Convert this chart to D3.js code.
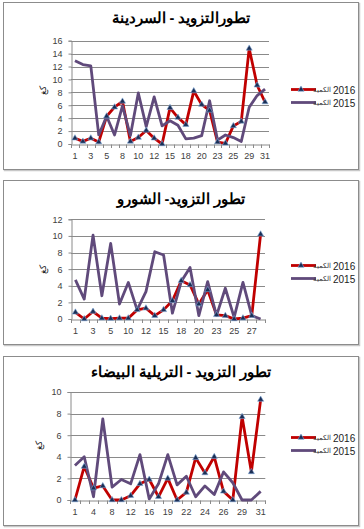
<!DOCTYPE html>
<html><head><meta charset="utf-8">
<script src="https://cdn.jsdelivr.net/npm/d3@7"></script>
<style>
html,body{margin:0;padding:0;background:#fff;}
svg{display:block;}
text{font-family:"Liberation Sans",Arial,sans-serif;}
</style></head>
<body>
<svg id="c" width="364" height="529"></svg>
<script>
// ---------- data ----------
const titles = ["تطورالتزويد - السردينة", "تطور التزويد- الشورو", "تطور التزويد - التريلية البيضاء"];
const seriesNames = ["الكمية 2016", "الكمية 2015"];
const yTitle = "كغ";

const days1 = [1,2,3,4,5,6,8,9,10,11,12,13,15,16,18,19,20,22,23,24,25,26,29,30,31];
const s1_2016 = [0.9,0.4,0.9,0.3,4.3,5.7,6.6,0.4,1.0,2.1,0.9,0.0,5.6,4.1,3.0,8.2,6.1,5.2,0.3,0.1,2.8,3.5,14.8,9.1,6.5];
const s1_2015 = [12.9,12.3,12.1,1.4,4.3,1.4,5.9,1.3,7.9,2.7,7.3,2.8,3.6,2.9,0.8,0.9,1.3,6.7,0.6,1.4,1.0,0.4,5.7,7.5,8.5];
const yTicks1 = [0,2,4,6,8,10,12,14,16];

const days2 = [1,2,3,4,5,8,10,11,12,13,15,16,18,19,20,22,23,24,25,26,27,29];
const s2_2016 = [0.8,0.0,0.9,0.1,0.05,0.1,0.1,1.1,1.3,0.4,1.1,2.2,4.6,4.1,1.8,3.5,0.5,0.4,0.0,0.1,0.4,10.2];
const s2_2015 = [4.7,2.4,10.1,2.8,9.1,1.8,4.4,1.1,3.3,8.1,7.7,0.7,4.5,6.2,0.4,4.5,0.4,3.7,0.2,4.4,0.4,0.0];
const yTicks2 = [0,2,4,6,8,10,12];

const days3 = [1,2,4,6,8,10,12,14,16,18,19,20,22,23,24,25,26,28,29,30,31];
const s3_2016 = [0.0,3.1,1.1,1.3,0.0,0.0,0.4,1.5,1.9,0.3,2.0,0.0,0.7,3.9,2.5,4.0,0.8,0.0,7.7,2.6,9.3];
const s3_2015 = [3.2,4.0,0.3,7.5,1.2,1.9,1.5,4.2,0.1,1.5,4.2,1.4,2.2,0.3,1.3,0.5,2.6,1.6,0.0,0.0,0.8];
const yTicks3 = [0,2,4,6,8,10];

// ---------- layout ----------
const panels = [
  {title:titles[0], days:days1, a:s1_2016, b:s1_2015, ticks:yTicks1,
   box:[3,2,355,167], titleY:18, x0:71, x1:269, yb:144, yt:40.7, yLabX:43, yLabY:90, legY:89.5},
  {title:titles[1], days:days2, a:s2_2016, b:s2_2015, ticks:yTicks2,
   box:[3,180,355,164], titleY:199, x0:71, x1:265, yb:319, yt:219.3, yLabX:42.5, yLabY:269, legY:265.5},
  {title:titles[2], days:days3, a:s3_2016, b:s3_2015, ticks:yTicks3,
   box:[3,356,355,169], titleY:372, x0:70.3, x1:265.3, yb:500, yt:392, yLabX:39, yLabY:445, legY:437.5}
];
const RED = "#c00000", PURPLE = "#604a7b";

const svg = d3.select("#c");
const tri = d3.symbol().type(d3.symbolTriangle).size(16);

panels.forEach(p => {
  const g = svg.append("g");
  // frame
  g.append("rect").attr("x", p.box[0]+1.5).attr("y", p.box[1]+1.5).attr("width", p.box[2]).attr("height", p.box[3])
    .attr("fill", "none").attr("stroke", "#c8c8c8").attr("stroke-width", 1.5);
  g.append("rect").attr("x", p.box[0]+0.5).attr("y", p.box[1]+0.5).attr("width", p.box[2]).attr("height", p.box[3])
    .attr("fill", "#fff").attr("stroke", "#8c8c8c").attr("stroke-width", 1);

  const x = d3.scaleBand().domain(p.days.map(String)).range([p.x0, p.x1]).padding(0);
  const ymax = p.ticks[p.ticks.length-1];
  const y = d3.scaleLinear().domain([0, ymax]).range([p.yb, p.yt]);
  const cx = d => x(String(d)) + x.bandwidth()/2;

  // gridlines
  g.append("g").selectAll("line").data(p.ticks.filter(t => t > 0)).join("line")
    .attr("x1", p.x0).attr("x2", p.x1).attr("y1", d => Math.round(y(d))+0.5).attr("y2", d => Math.round(y(d))+0.5)
    .attr("stroke", "#8a8a8a").attr("stroke-width", 1);

  // y axis
  const ya = g.append("g").attr("transform", `translate(${Math.round(p.x0)+0.5},0)`)
    .call(d3.axisLeft(y).tickValues(p.ticks).tickSize(3).tickPadding(6));
  ya.select(".domain").attr("stroke", "#8a8a8a");
  ya.selectAll(".tick line").attr("stroke", "#8a8a8a");
  ya.selectAll("text").attr("font-size", 9).attr("fill", "#404040").attr("font-family", "Liberation Sans, Arial, sans-serif");

  // x axis
  const xa = g.append("g").attr("transform", `translate(0,${Math.round(p.yb)+0.5})`)
    .call(d3.axisBottom(x).tickSize(0).tickPadding(8)
      .tickFormat((d, i) => i % 2 === 0 ? d : ""));
  xa.select(".domain").attr("stroke", "#8a8a8a");
  xa.selectAll("text").attr("font-size", 9).attr("fill", "#404040").attr("font-family", "Liberation Sans, Arial, sans-serif");
  // tick marks between categories
  const bounds = p.days.map(d => x(String(d))).concat([p.x1]);
  g.append("g").selectAll("line").data(bounds).join("line")
    .attr("x1", d => Math.round(d)+0.5).attr("x2", d => Math.round(d)+0.5)
    .attr("y1", Math.round(p.yb)+0.5).attr("y2", Math.round(p.yb)+4)
    .attr("stroke", "#8a8a8a");

  // lines
  const line = d3.line().x((d, i) => cx(p.days[i])).y(d => y(d));
  g.append("path").datum(p.a).attr("d", line).attr("fill", "none").attr("stroke", RED)
    .attr("stroke-width", 2.8).attr("stroke-linejoin", "round");
  g.append("path").datum(p.b).attr("d", line).attr("fill", "none").attr("stroke", PURPLE)
    .attr("stroke-width", 2.8).attr("stroke-linejoin", "round");
  g.append("g").selectAll("path").data(p.a).join("path")
    .attr("d", tri).attr("transform", (d, i) => `translate(${cx(p.days[i])},${y(d)})`)
    .attr("fill", "#1a2f55").attr("stroke", "#7da6d6").attr("stroke-width", 0.6);

  // title
  g.append("text").attr("x", 181).attr("y", p.titleY).attr("text-anchor", "middle").attr("dominant-baseline", "central")
    .attr("font-size", 14.5).attr("font-weight", "bold").attr("fill", "#000")
    .attr("font-family", "DejaVu Sans, sans-serif").text(p.title);

  // y title
  g.append("text").attr("transform", `translate(${p.yLabX},${p.yLabY}) rotate(-90)`)
    .attr("text-anchor", "middle").attr("dominant-baseline", "central")
    .attr("font-size", 9).attr("fill", "#222").text(yTitle);

  // legend
  [[RED, seriesNames[0], true], [PURPLE, seriesNames[1], false]].forEach((L, k) => {
    const ly = p.legY + k*13;
    g.append("line").attr("x1", 291).attr("x2", 316).attr("y1", ly).attr("y2", ly)
      .attr("stroke", L[0]).attr("stroke-width", 2.8);
    if (L[2]) g.append("path").attr("d", tri).attr("transform", `translate(301,${ly})`)
      .attr("fill", "#1a2f55").attr("stroke", "#7da6d6").attr("stroke-width", 0.6);
    const parts = L[1].split(" ");
    g.append("text").attr("x", 313).attr("y", ly).attr("dominant-baseline", "central")
      .attr("font-size", 6.5).attr("fill", "#333").text(parts[0]);
    g.append("text").attr("x", 333).attr("y", ly + 0.5).attr("dominant-baseline", "central")
      .attr("font-size", 10).attr("fill", "#222").text(parts[1]);
  });
});
</script>
</body></html>
